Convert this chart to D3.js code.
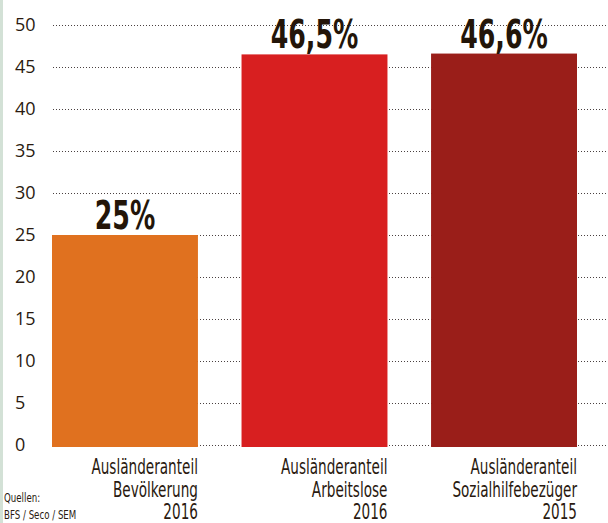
<!DOCTYPE html>
<html><head><meta charset="utf-8">
<script src="https://cdn.jsdelivr.net/npm/d3@7"></script>
<style>
html,body{margin:0;padding:0;background:#fff;}
svg{display:block;}
</style></head>
<body>
<svg id="chart" width="608" height="523"></svg>
<script>
const categories = ["Bevölkerung", "Arbeitslose", "Sozialhilfebezüger"];
const years = ["2016", "2016", "2015"];
const values = [25, 46.5, 46.6];
const valueLabels = ["25%", "46,5%", "46,6%"];
const colors = ["#e0711f", "#d81f20", "#9a1e19"];
const yTicks = [0, 5, 10, 15, 20, 25, 30, 35, 40, 45, 50];
const sourceLines = ["Quellen:", "BFS / Seco / SEM"];

const svg = d3.select("#chart");
const textColor = "#2a1a10";
const condensed = "'DejaVu Sans Condensed', 'Liberation Sans Narrow', sans-serif";

svg.append("rect").attr("x", 0).attr("y", 0).attr("width", 3).attr("height", 523).attr("fill", "#d3e1d6");

const y = d3.scaleLinear().domain([0, 50]).range([445, 25]);
const x = d3.scaleBand().domain(categories).range([52, 577]).paddingInner(0.23).paddingOuter(0);

// grid
svg.append("g").selectAll("line").data(yTicks).join("line")
  .attr("x1", 53).attr("x2", 608)
  .attr("y1", d => Math.round(y(d)) + 0.5).attr("y2", d => Math.round(y(d)) + 0.5)
  .attr("stroke", "#4a4040").attr("stroke-width", 1).attr("stroke-dasharray", "1,2");

// tick labels
svg.append("g").selectAll("text").data(yTicks).join("text")
  .attr("x", 15).attr("y", d => y(d)).attr("dy", "0.35em")
  .attr("font-family", "'Open Sans', sans-serif").attr("font-size", 18)
  .attr("fill", textColor).text(d => d);

// bars
svg.append("g").selectAll("rect").data(values).join("rect")
  .attr("x", (d, i) => x(categories[i])).attr("width", x.bandwidth())
  .attr("y", d => y(d)).attr("height", d => y(0) - y(d) + 2)
  .attr("fill", (d, i) => colors[i]);

// value labels
svg.append("g").selectAll("text").data(values).join("text")
  .attr("transform", (d, i) => `translate(${x(categories[i]) + x.bandwidth() / 2},${y(d) - 6}) scale(0.72,1)`)
  .attr("text-anchor", "middle")
  .attr("font-family", condensed)
  .attr("font-weight", "bold").attr("font-size", 39)
  .attr("fill", "#231509")
  .text((d, i) => valueLabels[i]);

// category labels
const cat = svg.append("g").selectAll("g").data(categories).join("g")
  .attr("transform", d => `translate(${x(d) + x.bandwidth()},0)`);
cat.each(function(d, i) {
  const lines = ["Ausländeranteil", d, years[i]];
  d3.select(this).selectAll("text").data(lines).join("text")
    .attr("transform", (l, j) => `translate(0,${474 + j * 22.5}) scale(0.72,1)`)
    .attr("text-anchor", "end")
    .attr("font-family", condensed)
    .attr("font-size", 21).attr("fill", textColor)
    .text(l => l);
});

// source
svg.append("g").selectAll("text").data(sourceLines).join("text")
  .attr("transform", (d, i) => `translate(4,${502 + i * 17}) scale(0.74,1)`)
  .attr("font-family", condensed)
  .attr("font-size", 13).attr("fill", textColor)
  .text(d => d);
</script>
</body></html>
